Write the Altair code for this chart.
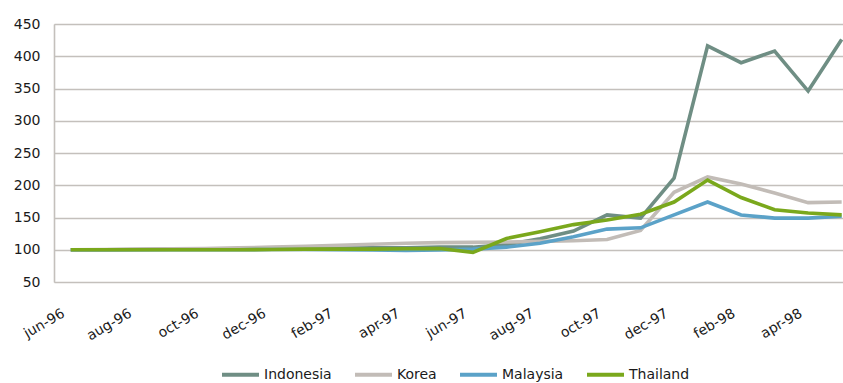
import altair as alt
import pandas as pd

# Monthly index values, June 1996 = 100
months = ["jun-96", "jul-96", "aug-96", "sep-96", "oct-96", "nov-96", "dec-96",
          "jan-97", "feb-97", "mar-97", "apr-97", "may-97", "jun-97", "jul-97",
          "aug-97", "sep-97", "oct-97", "nov-97", "dec-97", "jan-98", "feb-98",
          "mar-98", "apr-98", "may-98"]

indonesia = [100, 100, 100.5, 101, 101, 101.5, 102, 102, 102.5, 103, 103, 104,
             104, 108, 117, 129, 154, 149, 211, 416, 390, 408, 346, 426]
korea = [100, 100.5, 101, 101.5, 102, 103, 104, 105.5, 107, 108.5, 110, 111,
         111.5, 112, 113, 114, 116, 130, 189, 213, 202, 188, 173, 174]
malaysia = [100, 100, 100, 100, 100, 100, 100.5, 100.5, 100, 99.5, 99, 99.5,
            101, 104, 110, 120, 132, 134, 154, 174, 154, 149, 149, 152]
thailand = [100, 100, 100, 100, 100, 100, 100.5, 101, 101, 101, 101.5, 102,
            96, 117.5, 128, 139, 146, 155, 174, 208, 181, 162, 157, 154]

countries = ["Indonesia", "Korea", "Malaysia", "Thailand"]
colors = ["#6f8e84", "#c2bcb7", "#5ba2c8", "#7aa81c"]
series = [indonesia, korea, malaysia, thailand]

rows = []
for c, vals in zip(countries, series):
    for i, v in enumerate(vals):
        rows.append({"idx": i, "country": c, "value": v, "order": countries.index(c)})
df = pd.DataFrame(rows)

label_array = "[" + ",".join("'" + m + "'" for m in months) + "]"
FONT = "DejaVu Sans"

chart = alt.Chart(df).mark_line(strokeWidth=3.6, strokeJoin="miter", strokeCap="butt").encode(
    x=alt.X(
        "idx:Q",
        scale=alt.Scale(domain=[-0.5, 23.04], nice=False, zero=False),
        axis=alt.Axis(
            values=list(range(0, 24, 2)),
            labelExpr=label_array + "[datum.value]",
            labelAngle=-30,
            labelAlign="right",
            labelBaseline="top",
            labelPadding=24,
            labelOffset=-11,
            ticks=False,
            grid=False,
            domain=False,
            title=None,
            labelFont=FONT,
            labelFontSize=14,
            labelColor="#1a1a1a",
        ),
    ),
    y=alt.Y(
        "value:Q",
        scale=alt.Scale(domain=[50, 450], nice=False, zero=False),
        axis=alt.Axis(
            values=list(range(50, 451, 50)),
            ticks=False,
            grid=True,
            gridColor="#c4c0bc",
            gridWidth=1.6,
            domain=True,
            domainColor="#c4c0bc",
            domainWidth=1.6,
            labelPadding=14,
            title=None,
            labelFont=FONT,
            labelFontSize=14,
            labelColor="#1a1a1a",
        ),
    ),
    color=alt.Color(
        "country:N",
        scale=alt.Scale(domain=countries, range=colors),
        legend=alt.Legend(
            orient="none",
            direction="horizontal",
            legendX=166,
            legendY=330,
            title=None,
            symbolType="stroke",
            symbolSize=1369,
            symbolStrokeWidth=4,
            symbolOpacity=1,
            labelFont=FONT,
            labelFontSize=14,
            labelColor="#1a1a1a",
            labelOffset=3,
            columnPadding=15,
        ),
    ),
    order=alt.Order("order:Q"),
    detail="country:N",
).properties(
    width=789,
    height=258,
    padding={"left": 54, "top": 24, "right": 0, "bottom": 101},
    autosize=alt.AutoSizeParams(type="none"),
).configure_view(stroke=None).configure(background="white")

chart.save("out.html", embed_options={"renderer": "svg", "actions": False})
